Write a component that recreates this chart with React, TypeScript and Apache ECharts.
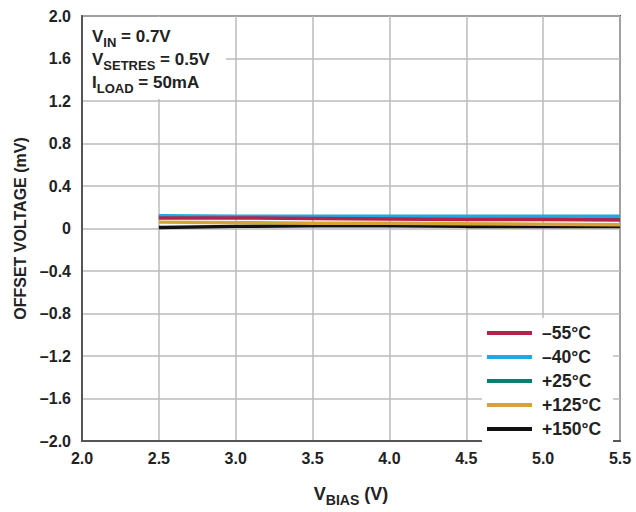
import React, { useEffect, useRef } from "react";
import * as echarts from "echarts";

const vbias = [2.5, 3.0, 3.5, 4.0, 4.5, 5.0, 5.5];
const seriesNames = ["–55°C", "–40°C", "+25°C", "+125°C", "+150°C"];
const m55 = [0.1, 0.1, 0.095, 0.09, 0.085, 0.085, 0.08];
const m40 = [0.12, 0.115, 0.115, 0.115, 0.115, 0.115, 0.115];
const p25 = [0.11, 0.105, 0.105, 0.1, 0.1, 0.1, 0.1];
const p125 = [0.06, 0.055, 0.05, 0.05, 0.045, 0.04, 0.035];
const p150 = [0.01, 0.02, 0.025, 0.025, 0.02, 0.02, 0.02];
const colors = ["#b5234b", "#1fa9e1", "#0a7e73", "#d4a437", "#111111"];
const allValues = [m55, m40, p25, p125, p150];

const FONT = "Liberation Sans, Arial, sans-serif";

export default function App() {
  const ref = useRef<HTMLDivElement>(null);
  useEffect(() => {
    const chart = echarts.init(ref.current!, null, { renderer: "svg" });
    const fmtY = (v: number) => {
      if (Math.abs(v) < 1e-9) return "0";
      const s = Math.abs(v).toFixed(1);
      return v < 0 ? "–" + s : s;
    };
    chart.setOption({
      animation: false,
      textStyle: { fontFamily: FONT },
      grid: { left: 82, right: 16, top: 16, bottom: 63, show: true, borderColor: "#555", borderWidth: 2, backgroundColor: "transparent" },
      xAxis: {
        type: "value",
        min: 2.0,
        max: 5.5,
        interval: 0.5,
        axisLine: { show: true, onZero: false, lineStyle: { color: "#555", width: 2 } },
        axisTick: { show: false },
        splitLine: { show: true, lineStyle: { color: "#bbb", width: 1.5 } },
        axisLabel: {
          fontFamily: FONT,
          fontWeight: "bold",
          fontSize: 16,
          color: "#222",
          margin: 9,
          formatter: (v: number) => v.toFixed(1),
        },
        name: "{m|V}{s|BIAS}{m| (V)}",
        nameLocation: "middle",
        nameGap: 44,
        nameTextStyle: {
          rich: {
            m: { fontFamily: FONT, fontWeight: "bold", fontSize: 18, color: "#222", lineHeight: 24, verticalAlign: "top" },
            s: { fontFamily: FONT, fontWeight: "bold", fontSize: 14, color: "#222", lineHeight: 16, verticalAlign: "top", padding: [8, 0, 0, 0] },
          },
        },
      },
      yAxis: {
        type: "value",
        min: -2.0,
        max: 2.0,
        interval: 0.4,
        axisLine: { show: true, onZero: false, lineStyle: { color: "#555", width: 2 } },
        axisTick: { show: false },
        splitLine: { show: true, lineStyle: { color: "#bbb", width: 1.5 } },
        axisLabel: {
          fontFamily: FONT,
          fontWeight: "bold",
          fontSize: 16,
          color: "#222",
          margin: 11,
          formatter: fmtY,
        },
        name: "OFFSET VOLTAGE (mV)",
        nameLocation: "middle",
        nameGap: 54,
        nameTextStyle: { fontFamily: FONT, fontWeight: "bold", fontSize: 16, color: "#222" },
      },
      legend: {
        orient: "vertical",
        left: 482,
        top: 318,
        backgroundColor: "#fff",
        padding: [6, 12, 8, 5],
        itemWidth: 45,
        itemHeight: 4,
        itemGap: 6,
        icon: "rect",
        textStyle: { fontFamily: FONT, fontWeight: "bold", fontSize: 17.5, lineHeight: 17, color: "#222", padding: [0, 0, 0, 5] },
        data: seriesNames,
      },
      graphic: [
        {
          type: "rect",
          left: 83,
          top: 17,
          shape: { width: 143, height: 82 },
          style: { fill: "#fff" },
          z: 10,
        },
        {
          type: "text",
          left: 92,
          top: 28,
          z: 11,
          style: {
            text: "{m|V}{s|IN}{m| = 0.7V}\n{m|V}{s|SETRES}{m| = 0.5V}\n{m|I}{s|LOAD}{m| = 50mA}",
            rich: {
              m: { fontFamily: FONT, fontWeight: "bold", fontSize: 17, fill: "#222", lineHeight: 23, verticalAlign: "top" },
              s: { fontFamily: FONT, fontWeight: "bold", fontSize: 13, fill: "#222", lineHeight: 15, verticalAlign: "top", padding: [8, 0, 0, 0] },
            },
          },
        },
      ],
      series: seriesNames.map((n, i) => ({
        name: n,
        type: "line",
        showSymbol: false,
        symbol: "none",
        color: colors[i],
        lineStyle: { width: 3.5, color: colors[i] },
        data: vbias.map((x, j) => [x, allValues[i][j]]),
        z: 5 - i,
      })),
    });
    return () => chart.dispose();
  }, []);
  return (
    <div
      ref={ref}
      style={{ position: "fixed", left: 0, top: 0, width: 636, height: 512, background: "#fff" }}
    />
  );
}
